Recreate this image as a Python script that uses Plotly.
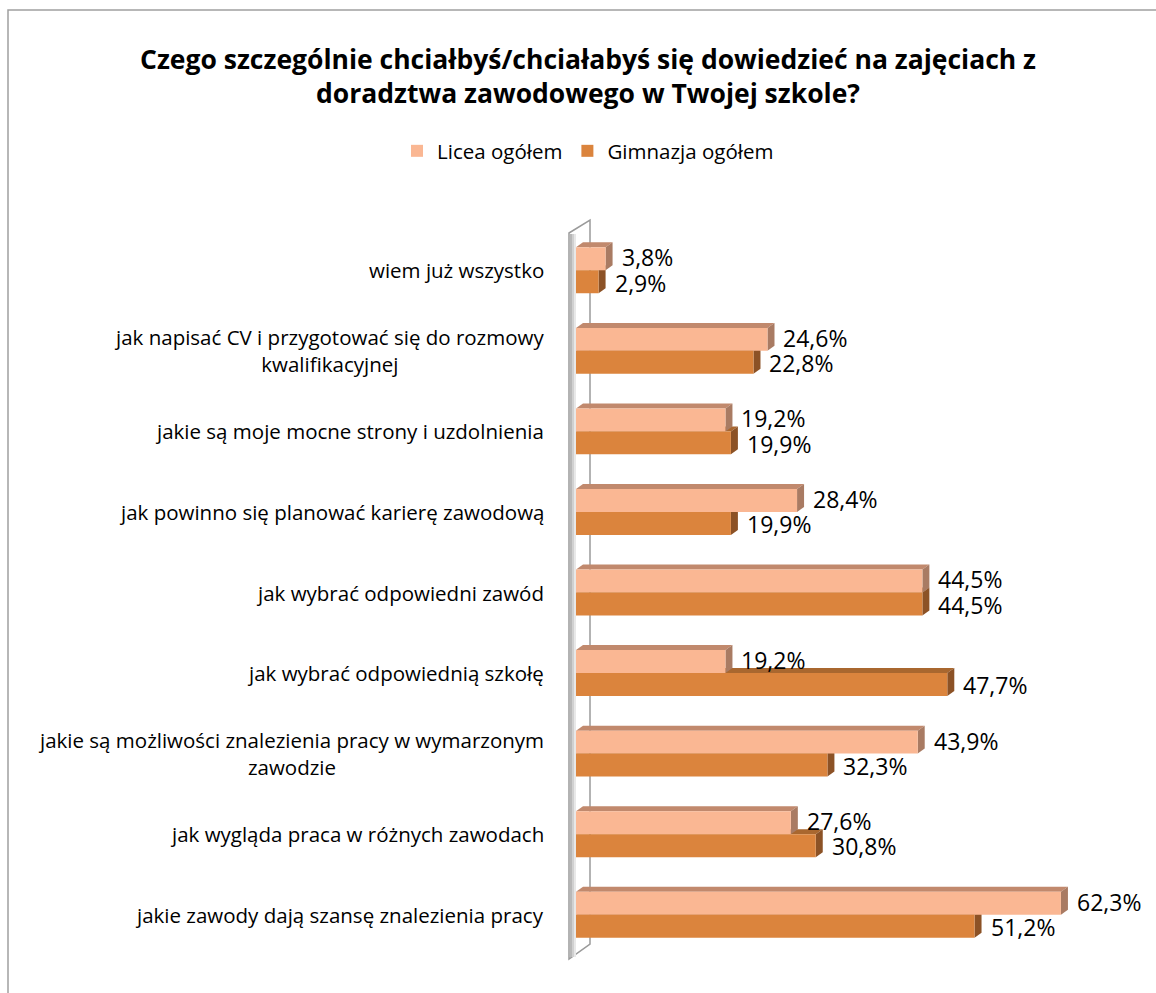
import plotly.graph_objects as go

categories = [
    "wiem już wszystko",
    "jak napisać CV i przygotować się do rozmowy<br>kwalifikacyjnej",
    "jakie są moje mocne strony i uzdolnienia",
    "jak powinno się planować karierę zawodową",
    "jak wybrać odpowiedni zawód",
    "jak wybrać odpowiednią szkołę",
    "jakie są możliwości znalezienia pracy w wymarzonym<br>zawodzie",
    "jak wygląda praca w różnych zawodach",
    "jakie zawody dają szansę znalezienia pracy",
]
licea = [3.8, 24.6, 19.2, 28.4, 44.5, 19.2, 43.9, 27.6, 62.3]
gimnazja = [2.9, 22.8, 19.9, 19.9, 44.5, 47.7, 32.3, 30.8, 51.2]
series_names = ["Licea ogółem", "Gimnazja ogółem"]
title_text = ("Czego szczególnie chciałbyś/chciałabyś się dowiedzieć na zajęciach z<br>"
              "doradztwa zawodowego w Twojej szkole?")

W, H = 1156, 993
ML, MR, MT, MB = 576, 4, 230, 38
PW, PH = W - ML - MR, H - MT - MB
FONT = "Open Sans, sans-serif"

C_LIC = "#FAB793"
C_LIC_TOP = "#C1896D"
C_LIC_SIDE = "#A97B63"
C_GIM = "#DB843D"
C_GIM_TOP = "#A9672F"
C_GIM_SIDE = "#8C5226"

BW = 0.285   # bar thickness (category units)
DX = 0.9     # 3D depth in x (data units)
DY = 0.062   # 3D depth in y (category units)


def px(x):
    return (x - ML) / PW


def py(y):
    return 1 - (y - MT) / PH


idx = list(range(len(categories)))

fig = go.Figure()
fig.add_trace(go.Bar(
    name=series_names[0], y=idx, x=licea, orientation="h",
    width=BW, offset=-BW, marker=dict(color=C_LIC, line=dict(width=0)),
    hoverinfo="x+name",
))
fig.add_trace(go.Bar(
    name=series_names[1], y=idx, x=gimnazja, orientation="h",
    width=BW, offset=0, marker=dict(color=C_GIM, line=dict(width=0)),
    hoverinfo="x+name",
))

shapes = []
# wall (vertical axis panel)
wall = [(569, 233), (590, 220), (590, 944), (569, 959)]
shapes.append(dict(
    type="path", xref="paper", yref="paper", layer="below",
    path="M " + " L ".join(f"{px(a)},{py(b)}" for a, b in wall) + " Z",
    fillcolor="white", line=dict(color="#9a9a9a", width=1.5),
))
for xa, xb, col in [(570, 572, "#b8b8b8"), (572, 574, "#d0d0d0"), (574, 576, "#e8e8e8")]:
    shapes.append(dict(
        type="rect", xref="paper", yref="paper", layer="below",
        x0=px(xa), x1=px(xb), y0=py(957), y1=py(234),
        fillcolor=col, line=dict(width=0),
    ))


def poly(pts, color):
    return dict(type="path", xref="x", yref="y", layer="below",
                path="M " + " L ".join(f"{a},{b}" for a, b in pts) + " Z",
                fillcolor=color, line=dict(width=0))


# Gimnazja 3D faces first (drawn behind Licea faces)
for i, v in zip(idx, gimnazja):
    y0, y1 = i, i + BW
    shapes.append(poly([(0, y0), (v, y0), (v + DX, y0 - DY), (DX, y0 - DY)], C_GIM_TOP))
    shapes.append(poly([(v, y0), (v + DX, y0 - DY), (v + DX, y1 - DY), (v, y1)], C_GIM_SIDE))
for i, v in zip(idx, licea):
    y0, y1 = i - BW, i
    shapes.append(poly([(0, y0), (v, y0), (v + DX, y0 - DY), (DX, y0 - DY)], C_LIC_TOP))
    shapes.append(poly([(v, y0), (v + DX, y0 - DY), (v + DX, y1 - DY), (v, y1)], C_LIC_SIDE))

# outer frame
shapes.append(dict(
    type="rect", xref="paper", yref="paper", layer="above",
    x0=px(8), x1=px(1175), y0=py(1015), y1=py(10),
    fillcolor="rgba(0,0,0,0)", line=dict(color="#a0a0a0", width=1.5),
))

annotations = []
# title
annotations.append(dict(
    text="<b>" + title_text + "</b>", xref="paper", yref="paper",
    x=px(588), y=py(76), xanchor="center", yanchor="middle", align="center",
    showarrow=False, font=dict(family=FONT, size=26.5, color="#000000"),
))
# category labels
for i, c in zip(idx, categories):
    annotations.append(dict(
        text=c, xref="paper", yref="y", x=0, y=i, xanchor="right", yanchor="middle",
        xshift=-30, align="center", showarrow=False,
        font=dict(family=FONT, size=20.5, color="#000000"),
    ))


def fmt(v):
    return f"{v:.1f}%".replace(".", ",")


for i, v in zip(idx, licea):
    annotations.append(dict(
        text=fmt(v), xref="x", yref="y", x=v, y=i - BW / 2 - 0.02,
        xanchor="left", yanchor="middle", xshift=14, showarrow=False,
        font=dict(family=FONT, size=23, color="#000000"),
    ))
for i, v in zip(idx, gimnazja):
    annotations.append(dict(
        text=fmt(v), xref="x", yref="y", x=v, y=i + BW / 2 + 0.01,
        xanchor="left", yanchor="middle", xshift=14, showarrow=False,
        font=dict(family=FONT, size=23, color="#000000"),
    ))

fig.update_layout(
    width=W, height=H,
    margin=dict(l=ML, r=MR, t=MT, b=MB, autoexpand=False),
    paper_bgcolor="white", plot_bgcolor="rgba(0,0,0,0)",
    barmode="overlay",
    showlegend=True,
    legend=dict(
        orientation="h", xref="container", yref="container",
        x=588 / W, xanchor="center", y=1 - 151 / H, yanchor="middle",
        font=dict(family=FONT, size=20.5, color="#000000"),
        itemwidth=30, traceorder="normal", bgcolor="rgba(0,0,0,0)",
    ),
    xaxis=dict(range=[0, 74], visible=False, fixedrange=True),
    yaxis=dict(range=[8.5, -0.5], showticklabels=False, showgrid=False,
               zeroline=False, showline=False, ticks="", fixedrange=True),
    shapes=shapes,
    annotations=annotations,
)

fig.write_html(
    "out.html",
    config={"displayModeBar": False},
    post_script="document.body.style.margin='0';document.body.style.overflow='hidden';",
)
